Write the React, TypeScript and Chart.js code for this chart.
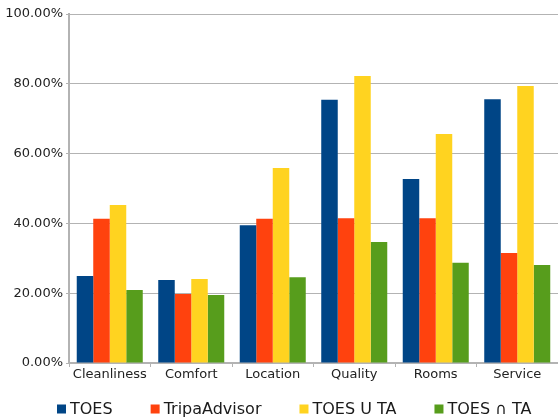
import React, { useEffect, useRef } from "react";
import { Chart, registerables } from "chart.js";

Chart.register(...registerables);

const categories = ["Cleanliness", "Comfort", "Location", "Quality", "Rooms", "Service"];
const toes = [24.9, 23.8, 39.5, 75.4, 52.7, 75.6];
const tripAdvisor = [41.3, 19.8, 41.3, 41.5, 41.5, 31.5];
const toesUnionTa = [45.3, 24.1, 55.9, 82.2, 65.6, 79.4];
const toesInterTa = [20.9, 19.5, 24.6, 34.7, 28.7, 28.1];
const seriesNames = ["TOES", "TripaAdvisor", "TOES U TA", "TOES ∩ TA"];
const seriesColors = ["#004586", "#ff420e", "#ffd320", "#579d1c"];

const FONT = "'DejaVu Sans', sans-serif";

const bottomLegend = {
  id: "bottomLegend",
  afterDraw(chart: any) {
    const ctx = chart.ctx;
    ctx.save();
    ctx.font = `16px ${FONT}`;
    ctx.textBaseline = "middle";
    ctx.textAlign = "left";
    const y = 409;
    let x = 57;
    const box = 9;
    const gap = 38;
    chart.data.datasets.forEach((ds: any) => {
      ctx.fillStyle = ds.backgroundColor;
      ctx.fillRect(x, y - box / 2, box, box);
      ctx.fillStyle = "#1a1a1a";
      ctx.fillText(ds.label, x + box + 4, y + 1);
      x += box + 4 + ctx.measureText(ds.label).width + gap;
    });
    ctx.restore();
  },
};

export default function App() {
  const ref = useRef<HTMLCanvasElement | null>(null);

  useEffect(() => {
    if (!ref.current) return;
    const data = [toes, tripAdvisor, toesUnionTa, toesInterTa];
    const chart = new Chart(ref.current, {
      type: "bar",
      data: {
        labels: categories,
        datasets: data.map((d, i) => ({
          label: seriesNames[i],
          data: d,
          backgroundColor: seriesColors[i],
          borderWidth: 0,
          categoryPercentage: 0.81,
          barPercentage: 1,
        })),
      },
      options: {
        animation: false,
        responsive: false,
        maintainAspectRatio: false,
        layout: { padding: { top: 14, right: 0, left: 0, bottom: 29 } },
        plugins: {
          tooltip: { enabled: false },
          legend: { display: false },
        },
        scales: {
          x: {
            grid: {
              display: true,
              drawOnChartArea: false,
              drawTicks: true,
              tickLength: 4,
              color: "#b3b3b3",
              offset: true,
            },
            border: { color: "#b3b3b3", width: 2 },
            ticks: {
              color: "#222",
              font: { family: FONT, size: 13 },
              padding: 0,
              maxRotation: 0,
            },
            afterFit: (s: any) => {
              s.height = 26;
            },
          },
          y: {
            min: 0,
            max: 100,
            ticks: {
              stepSize: 20,
              color: "#222",
              font: { family: FONT, size: 13 },
              padding: 3,
              callback: (v: any) => Number(v).toFixed(2) + "%",
            },
            grid: { color: "#b3b3b3", tickLength: 3, lineWidth: 1 },
            border: { color: "#b3b3b3", width: 2 },
            afterFit: (s: any) => {
              s.width = 69;
            },
          },
        },
      },
      plugins: [bottomLegend],
    });
    return () => chart.destroy();
  }, []);

  return (
    <div style={{ position: "fixed", left: 0, top: 0, width: 558, height: 418, background: "#fff" }}>
      <canvas ref={ref} width={558} height={418} style={{ width: 558, height: 418 }} />
    </div>
  );
}
